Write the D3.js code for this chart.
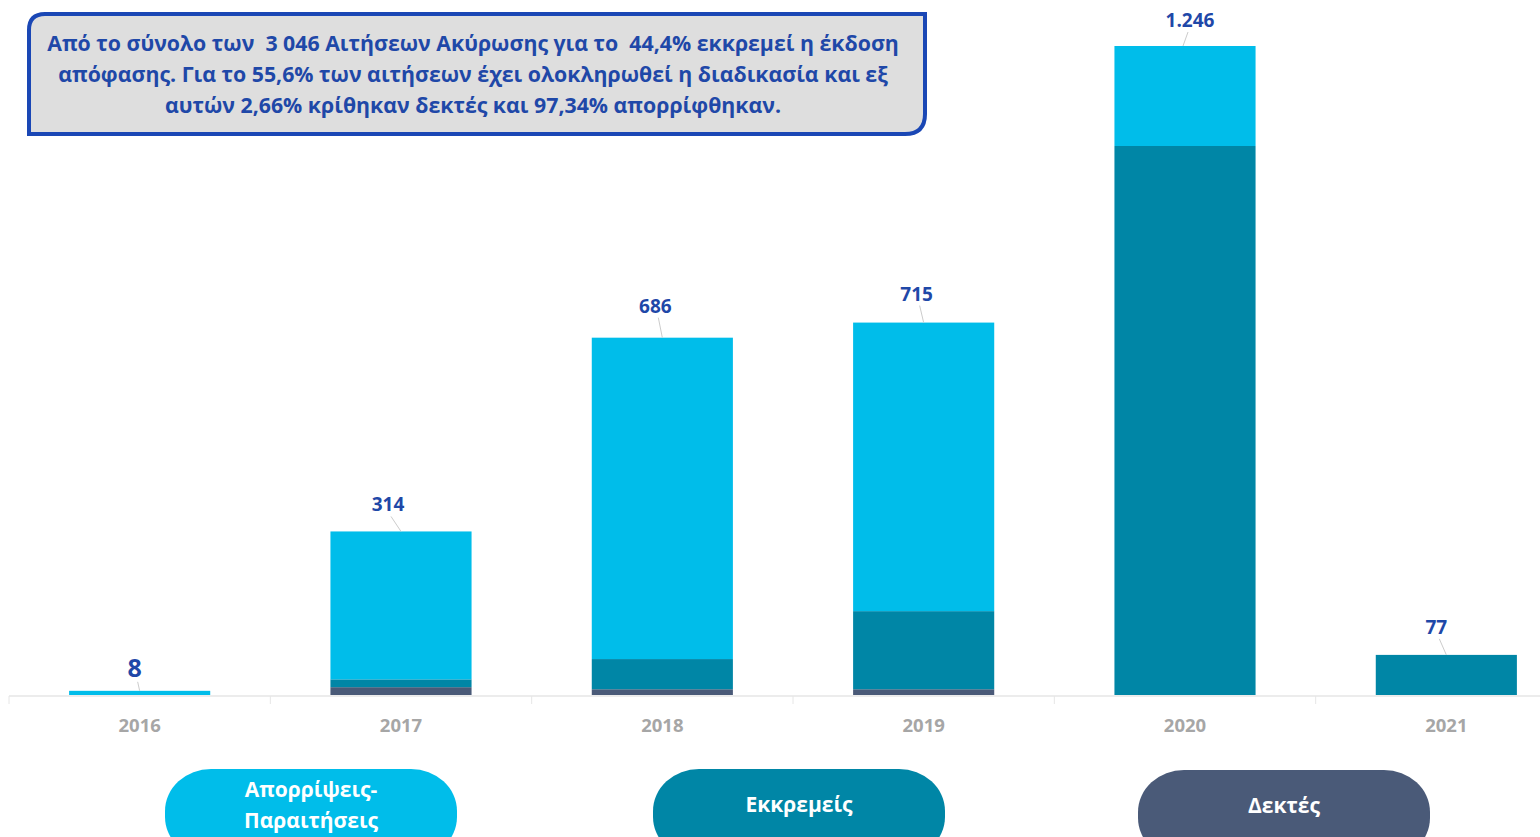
<!DOCTYPE html>
<html><head><meta charset="utf-8">
<script src="https://cdn.jsdelivr.net/npm/d3@7"></script>
<style>body{margin:0;background:#fff;overflow:hidden}svg{display:block}text{white-space:pre}</style>
</head><body>
<svg id="c" width="1540" height="837"></svg>
<script>
const years = ["2016","2017","2018","2019","2020","2021"];
const rejected = [8, 284, 617, 554, 192, 0];
const pending  = [0, 15, 58, 150, 1054, 77];
const accepted = [0, 15, 11, 11, 0, 0];
const totalLabels = ["8","314","686","715","1.246","77"];
const seriesNames = ["Απορρίψεις-\nΠαραιτήσεις","Εκκρεμείς","Δεκτές"];
const colors = {rejected:"#00BDEA", pending:"#0086A6", accepted:"#4A5A78"};
const noteLines = [
 "Από το σύνολο των  3 046 Αιτήσεων Ακύρωσης για το  44,4% εκκρεμεί η έκδοση",
 "απόφασης. Για το 55,6% των αιτήσεων έχει ολοκληρωθεί η διαδικασία και εξ",
 "αυτών 2,66% κρίθηκαν δεκτές και 97,34% απορρίφθηκαν."
];

const FONT = "'Open Sans', Lato, sans-serif";
const svg = d3.select("#c");
const baseY = 695;
const x = d3.scaleBand().domain(years).range([9, 1577]).padding(0);
const y = d3.scaleLinear().domain([0, 1246]).range([baseY, 46]);
const barW = x.bandwidth() * 0.54;

const rows = years.map((yr,i)=>({year:yr, accepted:accepted[i], pending:pending[i], rejected:rejected[i], label:totalLabels[i]}));
const stack = d3.stack().keys(["accepted","pending","rejected"])(rows);

// axis line and ticks
svg.append("line").attr("x1",9).attr("x2",1540).attr("y1",baseY+1).attr("y2",baseY+1)
  .attr("stroke","#e6e6e6").attr("stroke-width",1.5);
years.forEach((yr)=>{
  svg.append("line").attr("x1",x(yr)).attr("x2",x(yr)).attr("y1",baseY+1).attr("y2",baseY+9)
    .attr("stroke","#e6e6e6").attr("stroke-width",1);
});

// bars
stack.forEach(s=>{
  svg.append("g").selectAll("rect").data(s).join("rect")
    .attr("x", d=>x(d.data.year)+x.bandwidth()/2-barW/2)
    .attr("width", barW)
    .attr("y", d=>y(d[1]))
    .attr("height", d=>Math.max(0, y(d[0])-y(d[1])))
    .attr("fill", colors[s.key]);
});

// year labels
svg.append("g").selectAll("text").data(years).join("text")
  .attr("x", d=>x(d)+x.bandwidth()/2).attr("y", 732)
  .attr("text-anchor","middle").attr("font-family",FONT)
  .attr("font-weight","bold").attr("font-size",18.5).attr("fill","#a6a6a6").text(d=>d);

// value labels with leader lines
const labelOffsets = [ {dx:-5, dy:-14, fs:25}, {dx:-13,dy:-20,fs:19},{dx:-7,dy:-25,fs:19},{dx:-7,dy:-22,fs:19},{dx:5,dy:-19,fs:19},{dx:-10,dy:-21,fs:19}];
rows.forEach((r,i)=>{
  const tot = r.accepted+r.pending+r.rejected;
  const cx = x(r.year)+x.bandwidth()/2;
  const top = y(tot);
  const o = labelOffsets[i];
  const lx = cx + o.dx, ly = top + o.dy;
  svg.append("line").attr("x1", lx + (o.dx<0?3:-2)).attr("y1", ly+5).attr("x2", cx - (o.dx>0?2:0)).attr("y2", top)
    .attr("stroke","#cccccc").attr("stroke-width",1);
  svg.append("text").attr("x", lx).attr("y", ly)
    .attr("text-anchor","middle").attr("font-family",FONT)
    .attr("font-weight","bold").attr("font-size",o.fs).attr("fill","#1F48A8").text(r.label);
});

// note box (round diagonal corners)
(function(){
  const x0=29,y0=14,x1=925,y1=134,r1=16,r2=20;
  const p = `M${x0},${y0+r1} Q${x0},${y0} ${x0+r1},${y0} L${x1},${y0} L${x1},${y1-r2} Q${x1},${y1} ${x1-r2},${y1} L${x0},${y1} Z`;
  svg.append("path").attr("d",p).attr("fill","#dedede").attr("stroke","#1A47B5").attr("stroke-width",4);
  svg.append("g").selectAll("text").data(noteLines).join("text")
    .attr("x", 473).attr("y",(d,i)=>51+i*31)
    .attr("text-anchor","middle").attr("font-family",FONT)
    .attr("font-weight","bold").attr("font-size",21.3).attr("fill","#1F48A8").text(d=>d);
})();

// legend pills
const pills = [
  {name:seriesNames[0], color:colors.rejected, x:165, y:769},
  {name:seriesNames[1], color:colors.pending, x:653, y:769},
  {name:seriesNames[2], color:colors.accepted, x:1138, y:770}
];
pills.forEach(p=>{
  svg.append("rect").attr("x",p.x).attr("y",p.y).attr("width",292).attr("height",90)
    .attr("rx",46).attr("ry",42).attr("fill",p.color);
  const lines = p.name.split("\n");
  const cx = p.x+146;
  const t = svg.append("text").attr("text-anchor","middle").attr("font-family",FONT)
    .attr("font-weight","bold").attr("font-size",21).attr("fill","#ffffff");
  if(lines.length===2){
    t.append("tspan").attr("x",cx).attr("y",797).text(lines[0]);
    t.append("tspan").attr("x",cx).attr("y",828).text(lines[1]);
  } else {
    t.attr("x",cx).attr("y",p.y+43).text(lines[0]);
  }
});
</script>
</body></html>
